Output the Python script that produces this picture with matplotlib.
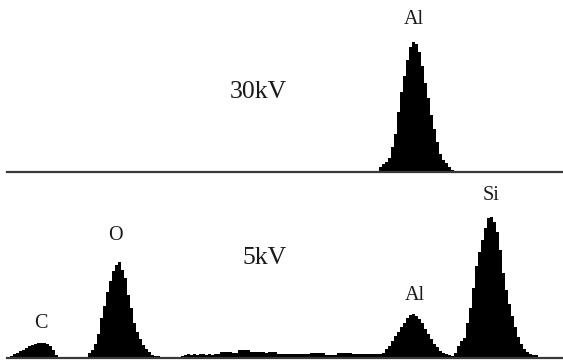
import numpy as np
import matplotlib
matplotlib.use("Agg")
import matplotlib.pyplot as plt

# ---------------- data (counts per channel) ----------
n_channels = 185

# 30 kV spectrum: only the Al peak, starting at channel 124
top_start = 124
top_counts = [5, 8, 10, 14, 25, 38, 60, 80, 96, 112, 125, 130, 128, 120,
              106, 89, 74, 57, 43, 30, 18, 12, 9, 5, 2]

# 5 kV spectrum, channel 0 onwards
bot_c = [1.5, 2.5, 4, 5, 7, 8, 10, 12, 13.5, 14.5, 15, 15, 15, 14, 12, 8, 3, 0.5]
bot_gap = [0.5, 0.5, 0.5, 0.5, 0.5, 0.5, 0.5, 0.5]
bot_o = [1, 5, 8, 14, 24, 40, 52, 66, 77, 87, 93, 96, 88, 80, 63, 50, 35, 26,
         19, 13, 9, 6, 3, 2]
bot_bg = [2, 1.5, 1, 1.5, 1.5, 1, 1.5, 1.5, 2, 3, 4, 3, 4, 3, 4, 4, 3, 4, 3,
          4, 4, 6, 6, 6, 6, 5, 5, 8, 8, 8, 8, 6, 6, 6, 6, 6, 5, 6, 6, 6, 4, 4,
          4, 4, 4, 4, 4, 4, 4, 4, 4, 5, 5, 5, 5, 5, 3, 3, 3, 3, 5, 5, 5, 5, 5,
          4, 4, 4, 4, 4, 4, 4, 4, 4, 4, 5]
bot_al_si = [9, 12, 17, 22, 26, 31, 35, 40, 43, 44, 42, 39, 35, 29, 24, 19, 14,
             11, 7, 5, 4, 3, 2, 5, 12, 17, 20, 35, 50, 70, 92, 106, 118, 130,
             140, 141, 136, 126, 108, 85, 68, 54, 42, 31, 21, 14, 9, 6, 4, 3,
             3, 1]

top_labels = [("Al", 135.7, 152)]
top_title = ("30kV", 83.7, 80)
bot_labels = [("C", 11.3, 35), ("O", 36.3, 122), ("Al", 136.0, 63),
              ("Si", 161.3, 162)]
bot_title = ("5kV", 86.0, 99.5)

# ---------------- build arrays ----------------
top = np.zeros(n_channels)
top[top_start:top_start + len(top_counts)] = top_counts
bot_list = bot_c + bot_gap + bot_o + bot_bg + bot_al_si
bot = np.zeros(n_channels)
bot[:len(bot_list)] = bot_list
edges = np.arange(n_channels + 1)

W, H = 563, 360
fig = plt.figure(figsize=(W / 100, H / 100), dpi=100)
fig.patch.set_facecolor("white")

serif = ["Liberation Serif", "DejaVu Serif"]
txt_col = "#1a1a1a"
xmax = (W - 7) / 3

# top panel: from y=0 px to baseline at 172 px
ax1 = fig.add_axes([7 / W, 1 - 172 / H, 1 - 7 / W, 172 / H])
ax1.stairs(top, edges, fill=True, color="black", linewidth=0)
ax1.axhline(0, color="#3a3a3a", lw=1.6, clip_on=False)
ax1.set_xlim(0, xmax)
ax1.set_ylim(0, 172)
ax1.axis("off")
for lab, x, y in top_labels:
    ax1.text(x, y, lab, ha="center", va="center", fontsize=14.5,
             family=serif, color=txt_col)
ax1.text(top_title[1], top_title[2], top_title[0], ha="center", va="center",
         fontsize=18.5, family=serif, color=txt_col)

# bottom panel: from y=180 px to baseline at 358 px
ax2 = fig.add_axes([7 / W, 1 - 358 / H, 1 - 7 / W, 178 / H])
ax2.stairs(bot, edges, fill=True, color="black", linewidth=0)
ax2.axhline(0, color="#3a3a3a", lw=1.6, clip_on=False)
ax2.set_xlim(0, xmax)
ax2.set_ylim(0, 178)
ax2.axis("off")
for lab, x, y in bot_labels:
    ax2.text(x, y, lab, ha="center", va="center", fontsize=14.5,
             family=serif, color=txt_col)
ax2.text(bot_title[1], bot_title[2], bot_title[0], ha="center", va="center",
         fontsize=18.5, family=serif, color=txt_col)

fig.savefig("out.png", dpi=100, facecolor="white")
